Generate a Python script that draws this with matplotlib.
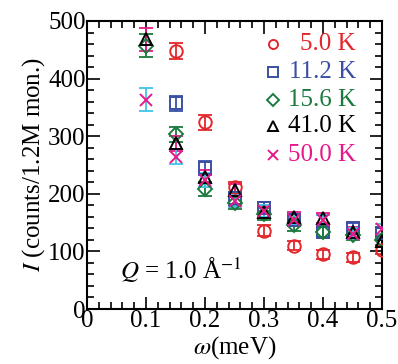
import numpy as np
import matplotlib
matplotlib.use("Agg")
import matplotlib.pyplot as plt
from matplotlib.ticker import MultipleLocator

plt.rcParams['font.family'] = ['Liberation Serif', 'DejaVu Serif']
plt.rcParams['mathtext.fontset'] = 'stix'

# energy transfer (meV)
omega = [0.1, 0.15, 0.2, 0.25, 0.3, 0.35, 0.4, 0.45, 0.5]

# intensities (nan = no point)
nan = np.nan
I_5K = [nan, 448, 324, 211, 136, 110, 95, 90, 103]
I_11K = [nan, 357, 245, 192, 175, 155, 134, 141, 132]
I_15K = [457, 303, 209, 184, 165, 145, 134, 128, 120]
I_41K = [468, 288, 230, 206, 168, 160, 158, 134, 118]
I_50K = [363, 264, 224, 188, 170, 155, 155, 131, 139]

err_5K = [nan, 14, 13, 10, 9, 8, 8, 8, 8]
err_other = [20, 13, 12, 11, 10, 9, 9, 9, 9]

labels = ['5.0 K', '11.2 K', '15.6 K', '41.0 K', '50.0 K']
series = [I_5K, I_11K, I_15K, I_41K, I_50K]
errs = [err_5K, err_other, err_other, err_other, err_other]
markers = ['o', 's', 'D', '^', 'x']
msizes = [9, 8.5, 7, 9, 9]
colors = ['#e3262b', '#3a4fa5', '#1b7a3e', '#000000', '#e5198a']
bar_colors = ['#e3262b', '#3a4fa5', '#1b7a3e', '#e5198a', '#3fc3ea']

fig = plt.figure(figsize=(3.98, 3.64), dpi=100)
ax = fig.add_axes([87/398, 1 - 309/364, 295/398, 288/364])

for y, e, m, ms, c, bc in zip(series, errs, markers, msizes, colors, bar_colors):
    ax.errorbar(omega, y, yerr=e, fmt='none', ecolor=bc, elinewidth=1.3,
                capsize=5, capthick=1.3, zorder=2)
    ax.plot(omega, y, linestyle='none', marker=m, markersize=ms,
            markerfacecolor='none', markeredgecolor=c, markeredgewidth=1.4,
            zorder=3)

# legend drawn by hand, text right-aligned
leg_y = [44, 72, 100, 126, 155]
for lab, m, c, py in zip(labels, markers, colors, leg_y):
    yf = (309 - py) / 288
    ax.plot([(273 - 87) / 295], [yf], transform=ax.transAxes, marker=m,
            markersize=6.5, markerfacecolor='none', markeredgecolor=c,
            markeredgewidth=1.4, clip_on=False)
    ax.text((356 - 87) / 295, yf, lab, transform=ax.transAxes, color=c,
            fontsize=18, ha='right', va='center')

ax.text((120 - 87) / 295, (309 - 270) / 288, r'$Q$ = 1.0 Å$^{-1}$',
        transform=ax.transAxes, fontsize=18, ha='left', va='center')

ax.set_xlim(0, 0.5)
ax.set_ylim(0, 500)
ax.xaxis.set_major_locator(MultipleLocator(0.1))
ax.xaxis.set_minor_locator(MultipleLocator(0.02))
ax.yaxis.set_major_locator(MultipleLocator(100))
ax.yaxis.set_minor_locator(MultipleLocator(20))
ax.set_xticks([0, 0.1, 0.2, 0.3, 0.4, 0.5])
ax.set_xticklabels(['0', '0.1', '0.2', '0.3', '0.4', '0.5'])
ax.tick_params(which='both', direction='in', top=True, right=True,
               labelsize=18, width=1.2, pad=1)
ax.tick_params(which='major', length=9)
ax.tick_params(which='minor', length=5)
for s in ax.spines.values():
    s.set_linewidth(1.5)

ax.set_xlabel(r'$\omega$(meV)', fontsize=18, labelpad=1)
ax.set_ylabel(r'$I$ (counts/1.2M mon.)', fontsize=18, labelpad=1)

fig.savefig('out.png', dpi=100)
